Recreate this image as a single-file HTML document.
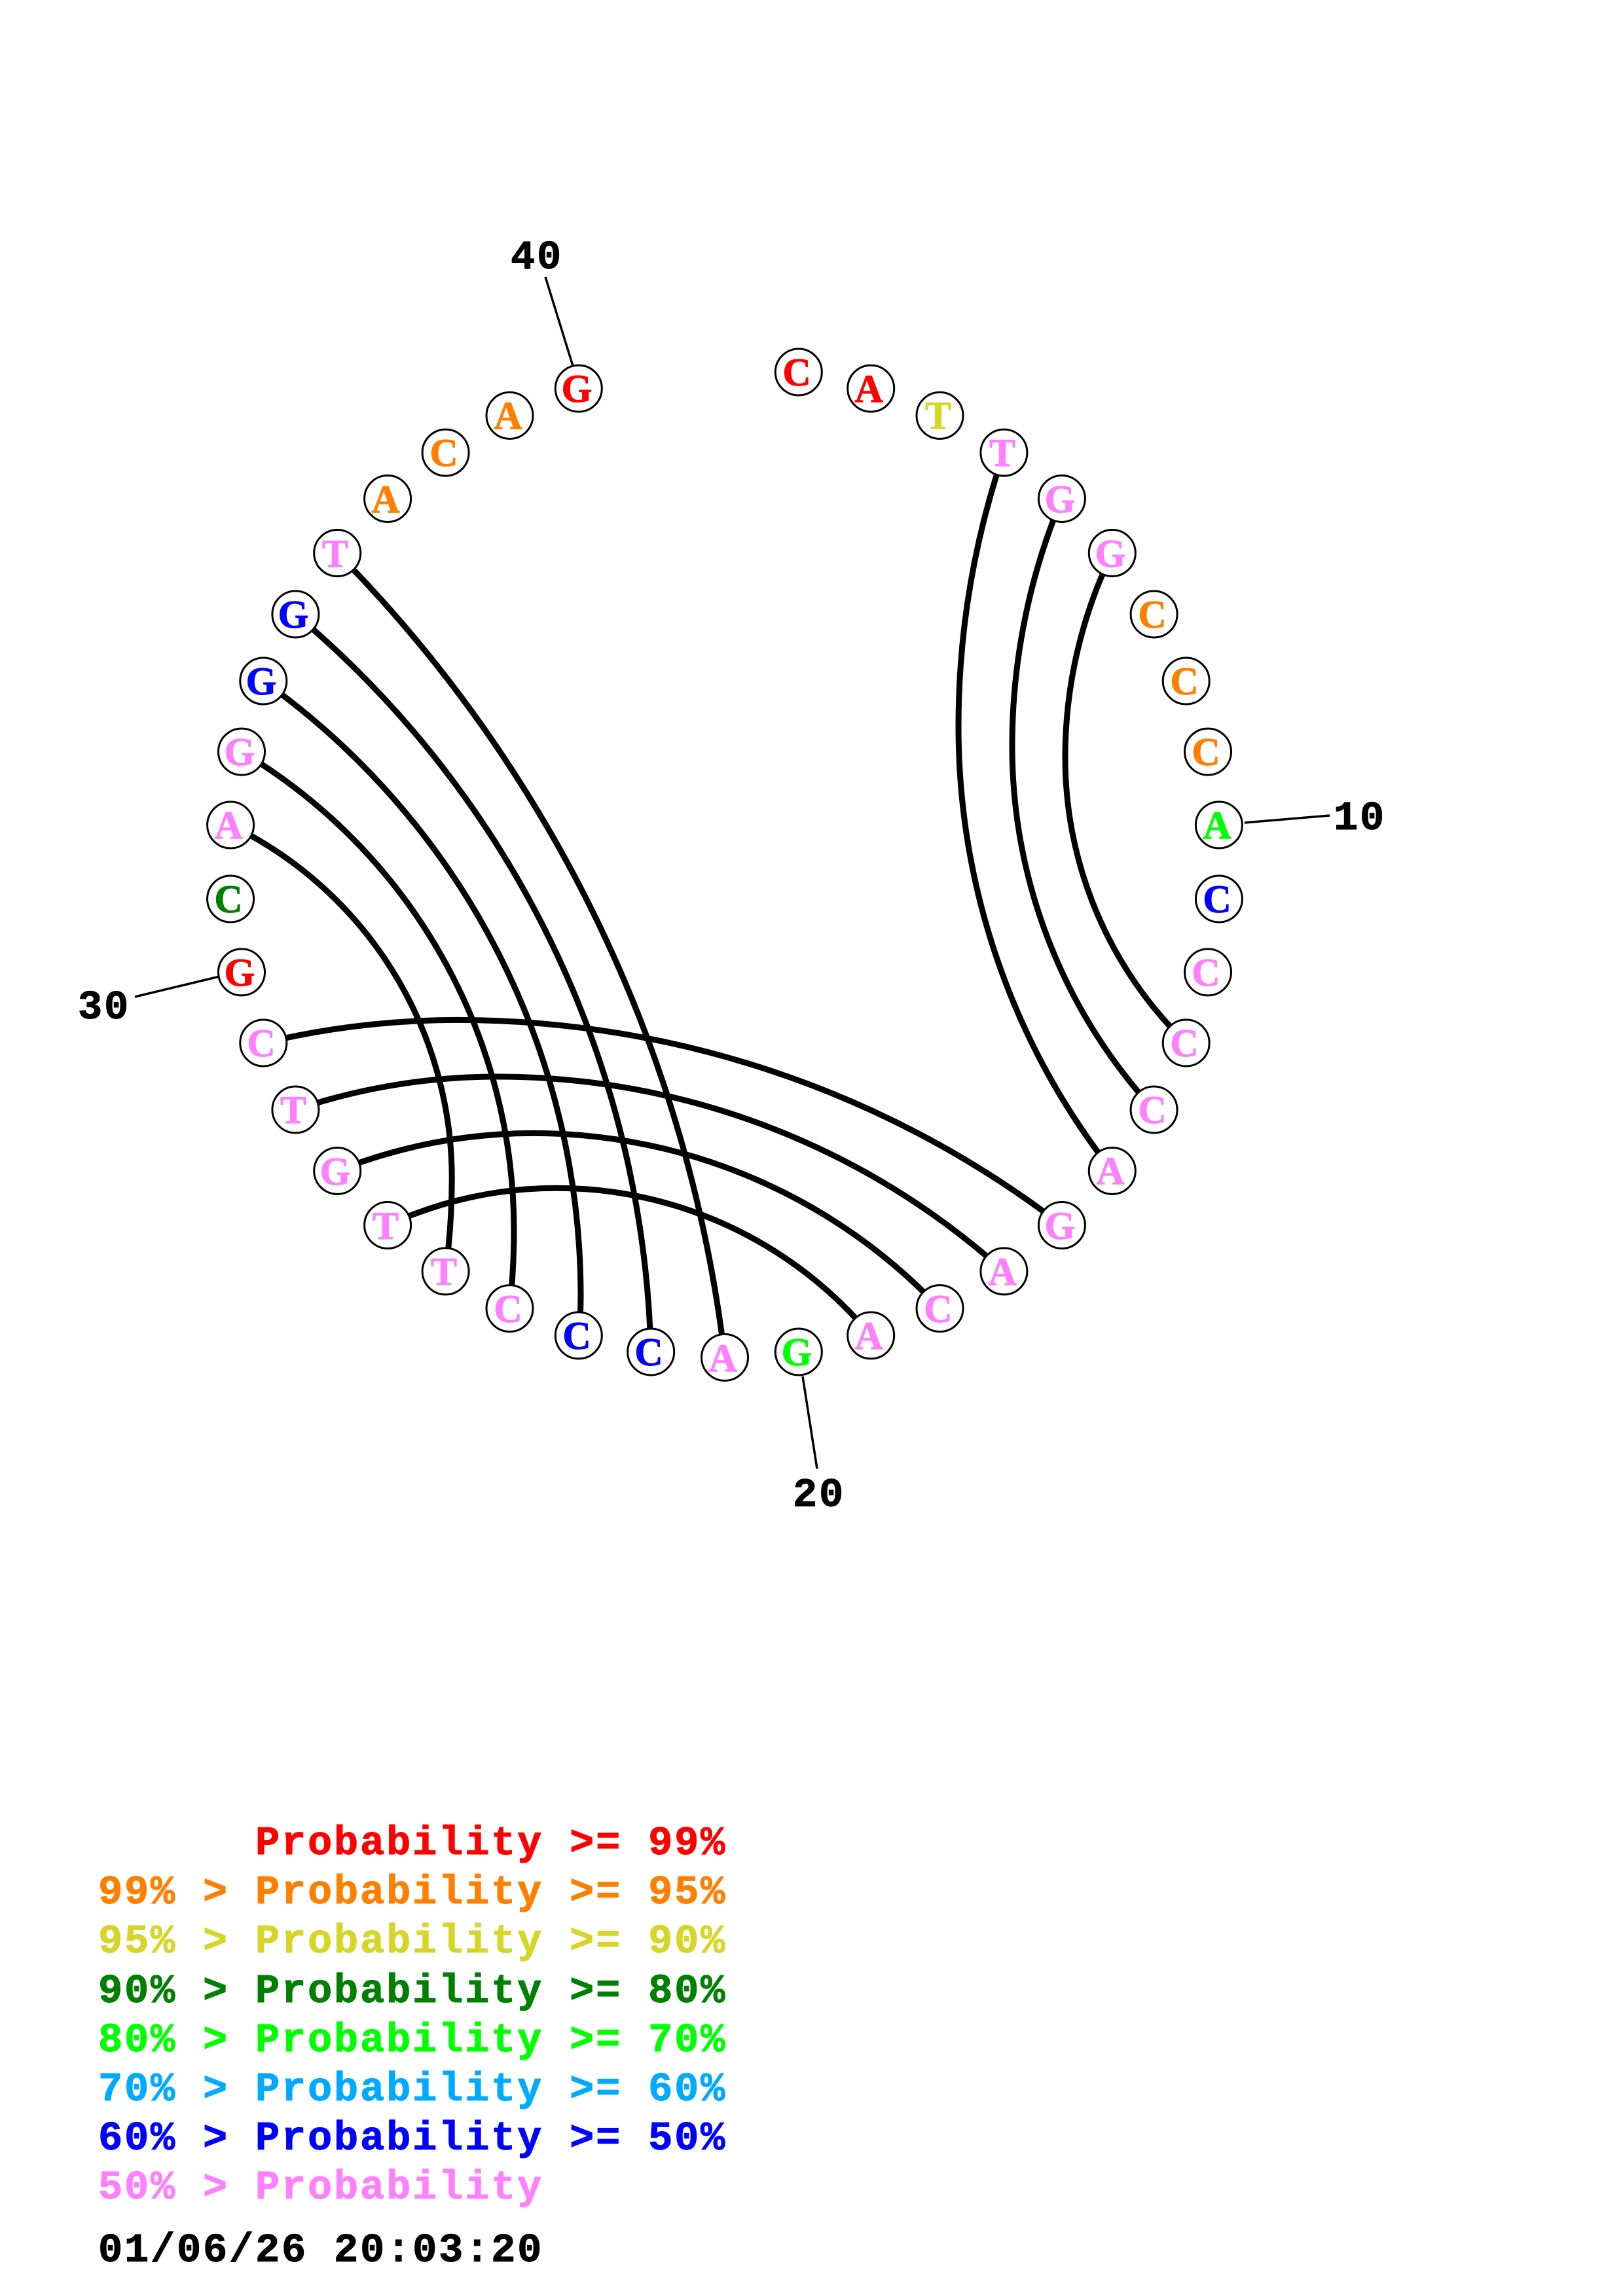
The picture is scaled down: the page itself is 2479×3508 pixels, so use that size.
<!DOCTYPE html>
<html>
<head>
<meta charset="utf-8">
<style>
html,body{margin:0;padding:0;background:#fff}
svg{display:block}
.n{font-family:"Liberation Serif",serif;font-weight:bold;font-size:60px;text-anchor:middle;stroke-width:1px}
.l{font-family:"Liberation Mono",monospace;font-weight:bold;font-size:62px;letter-spacing:2.8px;white-space:pre;stroke-width:1px}
.r{fill:#ff0000;stroke:#ff0000}.o{fill:#ff8000;stroke:#ff8000}.y{fill:#d6d629;stroke:#d6d629}.d{fill:#008000;stroke:#008000}
.g{fill:#00ff00;stroke:#00ff00}.s{fill:#00aaff;stroke:#00aaff}.b{fill:#0000ff;stroke:#0000ff}.p{fill:#ff80ff;stroke:#ff80ff}
.k{fill:#000;stroke:#000}
</style>
</head>
<body>
<svg width="2479" height="3508" viewBox="0 0 2479 3508" xmlns="http://www.w3.org/2000/svg">
<rect width="2479" height="3508" fill="#fff"/>
<g fill="none" stroke="#000" stroke-width="9">
<path d="M1533.4 691.6A1296 1296 0 0 0 1464 1110A1099 1099 0 0 0 1698.8 1789"/>
<path d="M1621.9 762A979 979 0 0 0 1546 1140A821 821 0 0 0 1762.6 1695.5"/>
<path d="M1698.8 845A714 714 0 0 0 1627 1157A608 608 0 0 0 1811.7 1593.5"/>
<path d="M402.3 1593.5A1272 1272 0 0 1 699 1558.4A1515 1515 0 0 1 1621.9 1872"/>
<path d="M451.4 1695.5A968 968 0 0 1 760 1645A1154 1154 0 0 1 1533.4 1942.4"/>
<path d="M515.2 1789A809 809 0 0 1 815 1731.4A853 853 0 0 1 1435.5 1999.1"/>
<path d="M592.1 1872A614 614 0 0 1 850 1815.2A625 625 0 0 1 1330.2 2040.4"/>
<path d="M515.2 845A2100 2100 0 0 1 1107 2074"/>
<path d="M451.4 938.5A1523 1523 0 0 1 994.2 2065.5"/>
<path d="M402.3 1040.5A1153 1153 0 0 1 887 1980A571 571 0 0 1 883.8 2040.4"/>
<path d="M369 1148.6A851 851 0 0 1 785 1880A1092 1092 0 0 1 778.5 1999.1"/>
<path d="M352.1 1260.5A600 600 0 0 1 690.2 1800A1055 1055 0 0 1 680.6 1942.4"/>
</g>
<g stroke="#000" stroke-width="3.5" fill="none">
<line x1="833" y1="423" x2="875" y2="559"/>
<line x1="1901" y1="1257" x2="2031" y2="1246"/>
<line x1="1226" y1="2103" x2="1248" y2="2244"/>
<line x1="206" y1="1523" x2="335" y2="1492"/>
</g>
<g fill="#fff" stroke="#000" stroke-width="3">
<circle cx="1219.8" cy="568.5" r="35.5"/><circle cx="1330.2" cy="593.6" r="35.5"/><circle cx="1435.5" cy="634.9" r="35.5"/><circle cx="1533.4" cy="691.6" r="35.5"/>
<circle cx="1621.9" cy="762" r="35.5"/><circle cx="1698.8" cy="845" r="35.5"/><circle cx="1762.6" cy="938.5" r="35.5"/><circle cx="1811.7" cy="1040.5" r="35.5"/>
<circle cx="1845" cy="1148.6" r="35.5"/><circle cx="1861.9" cy="1260.5" r="35.5"/><circle cx="1861.9" cy="1373.5" r="35.5"/><circle cx="1845" cy="1485.4" r="35.5"/>
<circle cx="1811.7" cy="1593.5" r="35.5"/><circle cx="1762.6" cy="1695.5" r="35.5"/><circle cx="1698.8" cy="1789" r="35.5"/><circle cx="1621.9" cy="1872" r="35.5"/>
<circle cx="1533.4" cy="1942.4" r="35.5"/><circle cx="1435.5" cy="1999.1" r="35.5"/><circle cx="1330.2" cy="2040.4" r="35.5"/><circle cx="1219.8" cy="2065.5" r="35.5"/>
<circle cx="1107" cy="2074" r="35.5"/><circle cx="994.2" cy="2065.5" r="35.5"/><circle cx="883.8" cy="2040.4" r="35.5"/><circle cx="778.5" cy="1999.1" r="35.5"/>
<circle cx="680.6" cy="1942.4" r="35.5"/><circle cx="592.1" cy="1872" r="35.5"/><circle cx="515.2" cy="1789" r="35.5"/><circle cx="451.4" cy="1695.5" r="35.5"/>
<circle cx="402.3" cy="1593.5" r="35.5"/><circle cx="369" cy="1485.4" r="35.5"/><circle cx="352.1" cy="1373.5" r="35.5"/><circle cx="352.1" cy="1260.5" r="35.5"/>
<circle cx="369" cy="1148.6" r="35.5"/><circle cx="402.3" cy="1040.5" r="35.5"/><circle cx="451.4" cy="938.5" r="35.5"/><circle cx="515.2" cy="845" r="35.5"/>
<circle cx="592.1" cy="762" r="35.5"/><circle cx="680.6" cy="691.6" r="35.5"/><circle cx="778.5" cy="634.9" r="35.5"/><circle cx="883.8" cy="593.6" r="35.5"/>
</g>
<g class="n" transform="translate(1,0)">
<text class="n r" x="1216" y="589">C</text><text class="n r" x="1326" y="614">A</text><text class="n y" x="1432" y="655">T</text><text class="n p" x="1530" y="712">T</text>
<text class="n p" x="1618" y="783">G</text><text class="n p" x="1695" y="866">G</text><text class="n o" x="1759" y="959">C</text><text class="n o" x="1808" y="1061">C</text>
<text class="n o" x="1841" y="1169">C</text><text class="n g" x="1858" y="1281">A</text><text class="n b" x="1858" y="1394">C</text><text class="n p" x="1841" y="1506">C</text>
<text class="n p" x="1808" y="1614">C</text><text class="n p" x="1759" y="1716">C</text><text class="n p" x="1695" y="1809">A</text><text class="n p" x="1618" y="1893">G</text>
<text class="n p" x="1530" y="1963">A</text><text class="n p" x="1432" y="2020">C</text><text class="n p" x="1326" y="2061">A</text><text class="n g" x="1216" y="2086">G</text>
<text class="n p" x="1103" y="2095">A</text><text class="n b" x="990" y="2086">C</text><text class="n b" x="880" y="2061">C</text><text class="n p" x="775" y="2020">C</text>
<text class="n p" x="677" y="1963">T</text><text class="n p" x="588" y="1893">T</text><text class="n p" x="511" y="1810">G</text><text class="n p" x="447" y="1716">T</text>
<text class="n p" x="398" y="1614">C</text><text class="n r" x="365" y="1506">G</text><text class="n d" x="348" y="1394">C</text><text class="n p" x="348" y="1281">A</text>
<text class="n p" x="365" y="1169">G</text><text class="n b" x="398" y="1061">G</text><text class="n b" x="447" y="959">G</text><text class="n p" x="511" y="866">T</text>
<text class="n o" x="588" y="783">A</text><text class="n o" x="677" y="712">C</text><text class="n o" x="775" y="655">A</text><text class="n r" x="880" y="614">G</text>
</g>
<g>
<text class="l k" x="780" y="410">40</text>
<text class="l k" x="2037" y="1267">10</text>
<text class="l k" x="1211" y="2301">20</text>
<text class="l k" x="119" y="1556">30</text>
</g>
<g>
<text class="l r" x="150" y="2833">      Probability &gt;= 99%</text>
<text class="l o" x="150" y="2908">99% &gt; Probability &gt;= 95%</text>
<text class="l y" x="150" y="2983">95% &gt; Probability &gt;= 90%</text>
<text class="l d" x="150" y="3059">90% &gt; Probability &gt;= 80%</text>
<text class="l g" x="150" y="3134">80% &gt; Probability &gt;= 70%</text>
<text class="l s" x="150" y="3209">70% &gt; Probability &gt;= 60%</text>
<text class="l b" x="150" y="3284">60% &gt; Probability &gt;= 50%</text>
<text class="l p" x="150" y="3359">50% &gt; Probability</text>
<text class="l k" x="150" y="3455">01/06/26 20:03:20</text>
</g>
</svg>
</body>
</html>
